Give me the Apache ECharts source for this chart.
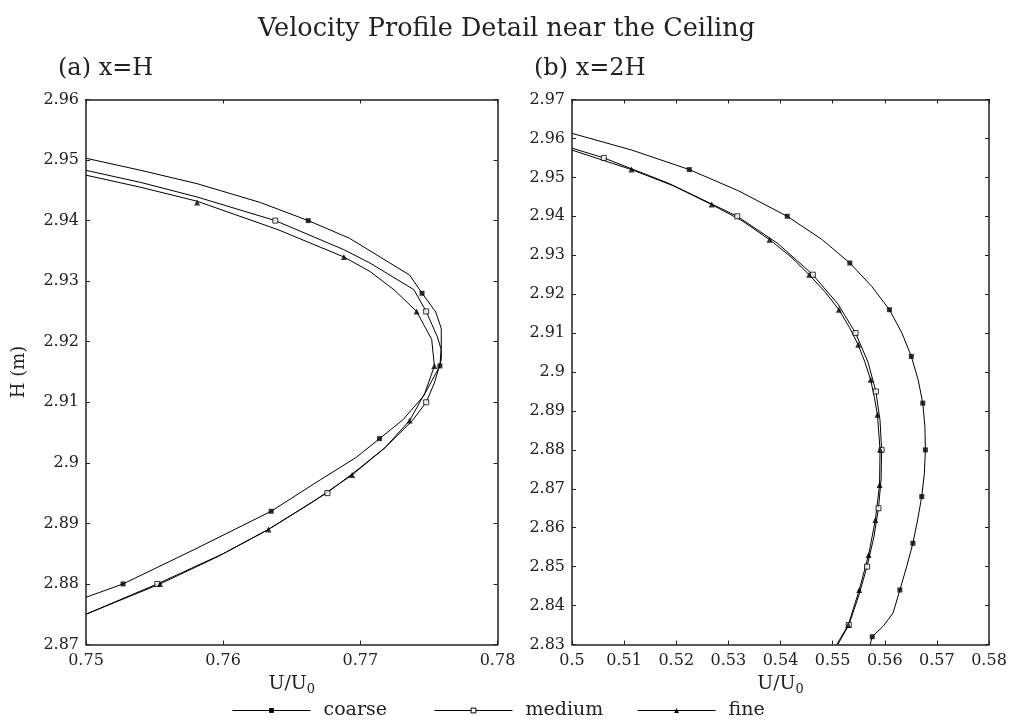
<!DOCTYPE html>
<html>
<head>
<meta charset="utf-8">
<script src="https://cdn.jsdelivr.net/npm/echarts@6/dist/echarts.min.js"></script>
<style>
html,body{margin:0;padding:0;background:#fff;}
#chart{width:1013px;height:722px;}
</style>
</head>
<body>
<div id="chart"></div>
<script>
// ---------- data (U/U0, H) ----------
const seriesNames = ['coarse', 'medium', 'fine'];
const panelTitles = ['(a) x=H', '(b) x=2H'];
const xTicksA = [0.75, 0.78, 0.01];
const yTicksA = [2.87, 2.96, 0.01];
const xTicksB = [0.5, 0.58, 0.01];
const yTicksB = [2.83, 2.97, 0.01];

// panel (a) x=H : polylines
const coarseA = [[0.7500,2.9503],[0.7540,2.9483],[0.7581,2.9461],[0.7627,2.9430],[0.7662,2.9400],[0.7692,2.9371],[0.7736,2.9310],[0.7745,2.9280],[0.7755,2.9249],[0.7759,2.9222],[0.7759,2.9190],[0.7758,2.9160],[0.7752,2.9135],[0.7746,2.9110],[0.7731,2.9071],[0.7714,2.9040],[0.7697,2.9009],[0.7666,2.8965],[0.7635,2.8920],[0.7580,2.8858],[0.7527,2.8800],[0.7500,2.8778]];
const mediumA = [[0.7500,2.9483],[0.7540,2.9463],[0.7581,2.9439],[0.7638,2.9400],[0.7688,2.9352],[0.7707,2.9330],[0.7739,2.9286],[0.7748,2.9250],[0.7756,2.9209],[0.7759,2.9187],[0.7759,2.9170],[0.7754,2.9132],[0.7748,2.9100],[0.7738,2.9070],[0.7718,2.9025],[0.7696,2.8985],[0.7676,2.8951],[0.7633,2.8890],[0.7600,2.8850],[0.7552,2.8800],[0.7500,2.8750]];
const fineA = [[0.7500,2.9475],[0.7540,2.9455],[0.7581,2.9432],[0.7640,2.9385],[0.7688,2.9340],[0.7707,2.9316],[0.7725,2.9285],[0.7741,2.9250],[0.7752,2.9204],[0.7754,2.9160],[0.7747,2.9115],[0.7736,2.9070],[0.7718,2.9025],[0.7694,2.8980],[0.7665,2.8935],[0.7633,2.8890],[0.7596,2.8845],[0.7554,2.8800],[0.7500,2.8750]];
// panel (a) marker points
const coarseAMarks = [[0.7662,2.940],[0.7745,2.928],[0.7758,2.916],[0.7714,2.904],[0.7635,2.892],[0.7527,2.880]];
const mediumAMarks = [[0.7638,2.940],[0.7748,2.925],[0.7748,2.910],[0.7676,2.895],[0.7552,2.880]];
const fineAMarks = [[0.7581,2.943],[0.7688,2.934],[0.7741,2.925],[0.7754,2.916],[0.7736,2.907],[0.7694,2.898],[0.7633,2.889],[0.7554,2.880]];

// panel (b) x=2H : polylines
const coarseB = [[0.5000,2.9613],[0.5115,2.9570],[0.5225,2.9520],[0.5320,2.9465],[0.5413,2.9400],[0.5480,2.9340],[0.5533,2.9280],[0.5575,2.9220],[0.5609,2.9160],[0.5633,2.9100],[0.5651,2.9040],[0.5664,2.8980],[0.5673,2.8920],[0.5677,2.8860],[0.5678,2.8800],[0.5676,2.8740],[0.5671,2.8680],[0.5663,2.8620],[0.5654,2.8560],[0.5642,2.8500],[0.5629,2.8440],[0.5616,2.8381],[0.5597,2.8347],[0.5576,2.8320],[0.5572,2.8300]];
const mediumB = [[0.5000,2.9575],[0.5061,2.9550],[0.5185,2.9485],[0.5317,2.9400],[0.5395,2.9330],[0.5462,2.9250],[0.5510,2.9175],[0.5544,2.9100],[0.5568,2.9025],[0.5583,2.8950],[0.5591,2.8875],[0.5594,2.8800],[0.5593,2.8725],[0.5588,2.8650],[0.5579,2.8575],[0.5566,2.8500],[0.5550,2.8425],[0.5531,2.8350],[0.5510,2.8300]];
const fineB = [[0.5000,2.9570],[0.5114,2.9520],[0.5195,2.9478],[0.5268,2.9430],[0.5327,2.9388],[0.5379,2.9340],[0.5420,2.9296],[0.5455,2.9250],[0.5486,2.9205],[0.5512,2.9160],[0.5532,2.9115],[0.5549,2.9070],[0.5562,2.9025],[0.5573,2.8980],[0.5580,2.8935],[0.5586,2.8890],[0.5591,2.8800],[0.5590,2.8710],[0.5582,2.8620],[0.5569,2.8530],[0.5551,2.8440],[0.5530,2.8350],[0.5508,2.8300]];
// panel (b) marker points
const coarseBMarks = [[0.5225,2.952],[0.5413,2.940],[0.5533,2.928],[0.5609,2.916],[0.5651,2.904],[0.5673,2.892],[0.5678,2.880],[0.5671,2.868],[0.5654,2.856],[0.5629,2.844],[0.5576,2.832]];
const mediumBMarks = [[0.5061,2.955],[0.5317,2.940],[0.5462,2.925],[0.5544,2.910],[0.5583,2.895],[0.5594,2.880],[0.5588,2.865],[0.5566,2.850],[0.5531,2.835]];
const fineBMarks = [[0.5114,2.952],[0.5268,2.943],[0.5379,2.934],[0.5455,2.925],[0.5512,2.916],[0.5549,2.907],[0.5573,2.898],[0.5586,2.889],[0.5591,2.880],[0.5590,2.871],[0.5582,2.862],[0.5569,2.853],[0.5551,2.844],[0.5530,2.835]];

// ---------- styling / building ----------
const FONT = 'DejaVu Serif';
const INK = '#222';
const markerStyles = {
  coarse: {symbol: 'rect', size: 5, itemStyle: {color: '#000'}},
  medium: {symbol: 'rect', size: 5, itemStyle: {color: '#fff', borderColor: '#000', borderWidth: 1}},
  fine:   {symbol: 'triangle', size: 6, itemStyle: {color: '#000'}}
};
const legendSymbols = {coarse: 'rect', medium: 'rect', fine: 'triangle'};
const legendItemStyles = {
  coarse: {color: '#000', borderWidth: 0},
  medium: {color: '#fff', borderColor: '#000', borderWidth: 1},
  fine: {color: '#000', borderWidth: 0}
};

function xAx(grid, t, bottom) {
  return {
    gridIndex: grid, type: 'value', min: t[0], max: t[1], interval: t[2],
    position: bottom ? 'bottom' : 'top',
    name: bottom ? 'U/U{sub|0}' : '',
    nameLocation: 'middle', nameGap: 27,
    nameTextStyle: {fontFamily: FONT, fontSize: 19, color: INK,
      rich: {sub: {fontFamily: FONT, fontSize: 13, color: INK, padding: [12, 0, 0, 0]}}},
    axisLine: {show: true, onZero: false, lineStyle: {color: INK, width: 1.5}},
    axisTick: {show: true, inside: true, length: 4, lineStyle: {color: INK, width: 1}},
    axisLabel: {show: bottom, fontFamily: FONT, fontSize: 16, color: INK, margin: 8},
    splitLine: {show: false}
  };
}
function yAx(grid, t, left, withName) {
  return {
    gridIndex: grid, type: 'value', min: t[0], max: t[1], interval: t[2],
    position: left ? 'left' : 'right',
    name: withName ? 'H (m)' : '',
    nameLocation: 'middle', nameGap: 58,
    nameTextStyle: {fontFamily: FONT, fontSize: 18, color: INK},
    axisLine: {show: true, onZero: false, lineStyle: {color: INK, width: 1.5}},
    axisTick: {show: true, inside: true, length: 4, lineStyle: {color: INK, width: 1}},
    axisLabel: {show: left, fontFamily: FONT, fontSize: 16, color: INK, margin: 7},
    splitLine: {show: false}
  };
}

const lines = [[coarseA, mediumA, fineA], [coarseB, mediumB, fineB]];
const marks = [[coarseAMarks, mediumAMarks, fineAMarks], [coarseBMarks, mediumBMarks, fineBMarks]];
const series = [];
for (let p = 0; p < 2; p++) {
  seriesNames.forEach((nm, i) => {
    series.push({
      name: nm, type: 'line', xAxisIndex: p * 2, yAxisIndex: p * 2,
      data: lines[p][i], showSymbol: false, symbol: legendSymbols[nm],
      itemStyle: legendItemStyles[nm],
      lineStyle: {color: '#000', width: 1}, clip: true, silent: true, z: 2
    });
  });
}
for (let p = 0; p < 2; p++) {
  seriesNames.forEach((nm, i) => {
    const ms = markerStyles[nm];
    series.push({
      name: nm + '-markers', type: 'scatter', xAxisIndex: p * 2, yAxisIndex: p * 2,
      data: marks[p][i], symbol: ms.symbol, symbolSize: ms.size,
      itemStyle: ms.itemStyle, silent: true, z: 3
    });
  });
}

const legendLefts = [232, 434, 637];
const legends = seriesNames.map((nm, i) => ({
  data: [nm], left: legendLefts[i], top: 701, padding: 0,
  itemWidth: 78, itemHeight: 6, selectedMode: false,
  itemStyle: legendItemStyles[nm],
  lineStyle: {color: '#000', width: 1},
  textStyle: {fontFamily: FONT, fontSize: 19, color: INK, padding: [0, 0, 0, 8]}
}));

const option = {
  animation: false,
  backgroundColor: '#fff',
  title: [
    {text: 'Velocity Profile Detail near the Ceiling', left: 'center', top: 16, padding: 0,
     textStyle: {fontFamily: FONT, fontSize: 25.5, fontWeight: 'normal', color: INK}},
    {text: panelTitles[0], left: 58, top: 57, padding: 0,
     textStyle: {fontFamily: FONT, fontSize: 24, fontWeight: 'normal', color: INK}},
    {text: panelTitles[1], left: 534, top: 57, padding: 0,
     textStyle: {fontFamily: FONT, fontSize: 24, fontWeight: 'normal', color: INK}}
  ],
  legend: legends,
  grid: [
    {left: 86, top: 99.5, width: 411.5, height: 545},
    {left: 572, top: 99.5, width: 417, height: 545}
  ],
  xAxis: [xAx(0, xTicksA, true), xAx(0, xTicksA, false), xAx(1, xTicksB, true), xAx(1, xTicksB, false)],
  yAxis: [yAx(0, yTicksA, true, true), yAx(0, yTicksA, false, false), yAx(1, yTicksB, true, false), yAx(1, yTicksB, false, false)],
  series: series
};
const chart = echarts.init(document.getElementById('chart'), null, {renderer: 'canvas'});
chart.setOption(option);
</script>
</body>
</html>
